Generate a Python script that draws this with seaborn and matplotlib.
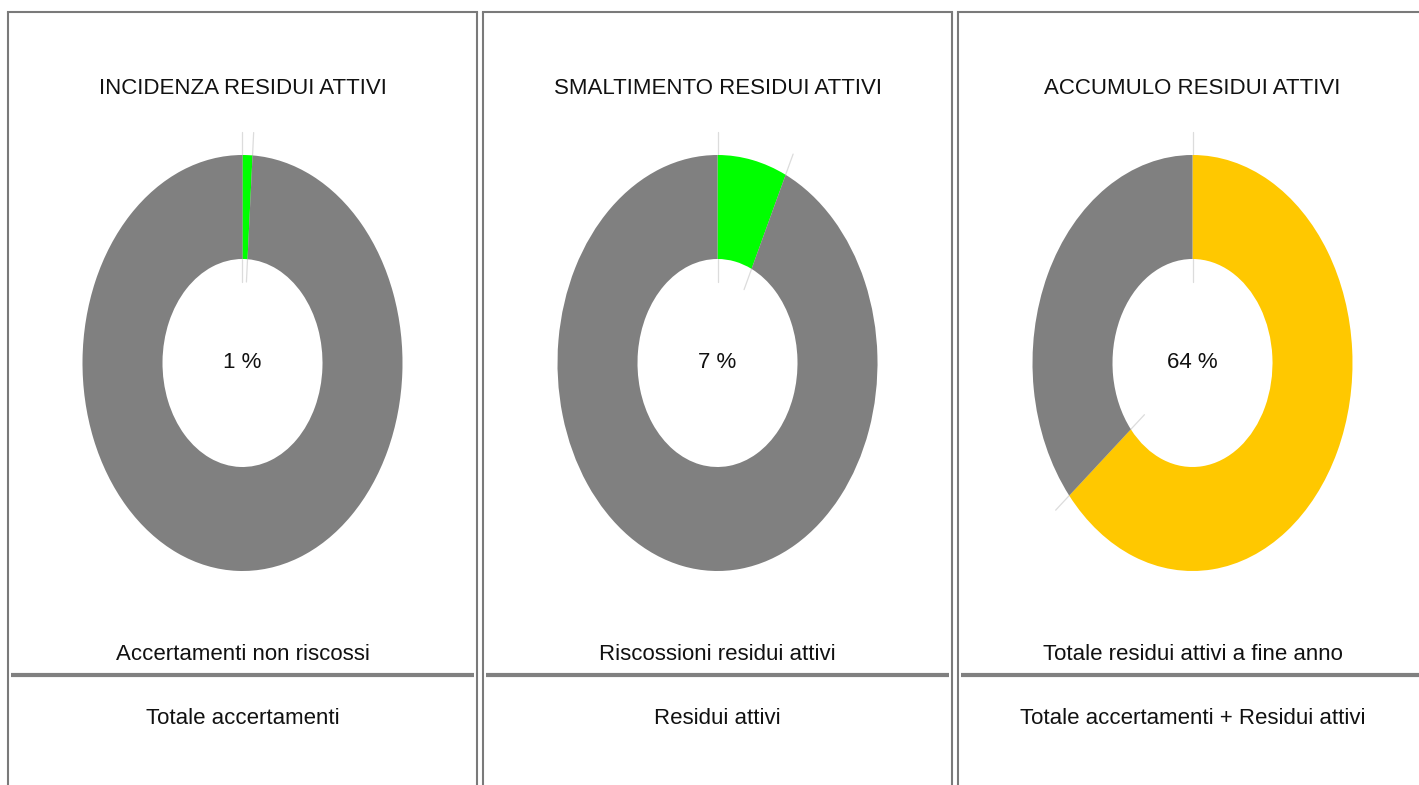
"""
Three donut indicators for 'residui attivi', each with a fraction caption below.
"""
import matplotlib
matplotlib.use("Agg")
import matplotlib.pyplot as plt
import numpy as np
import seaborn as sns

sns.set_theme(style="white")
plt.rcParams["font.family"] = ["Liberation Sans", "DejaVu Sans"]

# data
titles = ["INCIDENZA RESIDUI ATTIVI", "SMALTIMENTO RESIDUI ATTIVI", "ACCUMULO RESIDUI ATTIVI"]
percentages = [1, 7, 64]
numerators = ["Accertamenti non riscossi", "Riscossioni residui attivi", "Totale residui attivi a fine anno"]
denominators = ["Totale accertamenti", "Residui attivi", "Totale accertamenti + Residui attivi"]
highlight_colors = ["#00ff00", "#00ff00", "#ffc800"]

GRAY = "#808080"
BORDER = "#7a7a7a"
LEADER = "#dcdcdc"

W, H = 1419, 785
fig = plt.figure(figsize=(W / 100, H / 100), dpi=100)
fig.patch.set_facecolor("white")

# background axes in pixel coordinates for borders and captions
bg = fig.add_axes([0, 0, 1, 1], zorder=0)
bg.set_xlim(0, W)
bg.set_ylim(H, 0)
bg.axis("off")

panel_left = [8, 483, 958]
panel_width = 469
top_y = 12

for i, title in enumerate(titles):
    x0 = panel_left[i]
    x1 = x0 + panel_width
    cx = (x0 + x1) / 2

    # panel frame (open at bottom)
    bg.plot([x0, x0], [top_y, H + 5], color=BORDER, lw=1.5, solid_capstyle="butt")
    bg.plot([x1, x1], [top_y, H + 5], color=BORDER, lw=1.5, solid_capstyle="butt")
    bg.plot([x0, x1], [top_y, top_y], color=BORDER, lw=1.5, solid_capstyle="projecting")

    # captions
    bg.text(cx, 88, title, ha="center", va="center", fontsize=16, color="#111111")
    bg.text(cx, 655, numerators[i], ha="center", va="center", fontsize=16, color="#111111")
    bg.plot([x0 + 3, x1 - 3], [675, 675], color=GRAY, lw=3, solid_capstyle="butt")
    bg.text(cx, 718, denominators[i], ha="center", va="center", fontsize=16, color="#111111")

    # donut (stretched to an ellipse)
    k = 1.25
    hw, hh = 160 * k, 208 * k
    ax = fig.add_axes([(cx - hw) / W, (H - 363 - hh) / H, 2 * hw / W, 2 * hh / H], zorder=1)
    ax.patch.set_alpha(0)
    pct = percentages[i]
    ax.pie([pct, 100 - pct], colors=[highlight_colors[i], GRAY], startangle=90,
           counterclock=False, wedgeprops=dict(width=0.5, linewidth=0))
    ax.set_aspect("auto")
    ax.set_xlim(-k, k)
    ax.set_ylim(-k, k)
    ax.axis("off")

    # thin leader lines along the slice boundaries
    for frac in [0, pct / 100]:
        ang = 2 * np.pi * frac
        r = np.array([0.39, 1.11])
        ax.plot(r * np.sin(ang), r * np.cos(ang), color=LEADER, lw=0.9, zorder=0)

    ax.text(0, 0, f"{pct} %", ha="center", va="center", fontsize=16, color="#111111")

fig.savefig("out.png", dpi=100, facecolor="white")
